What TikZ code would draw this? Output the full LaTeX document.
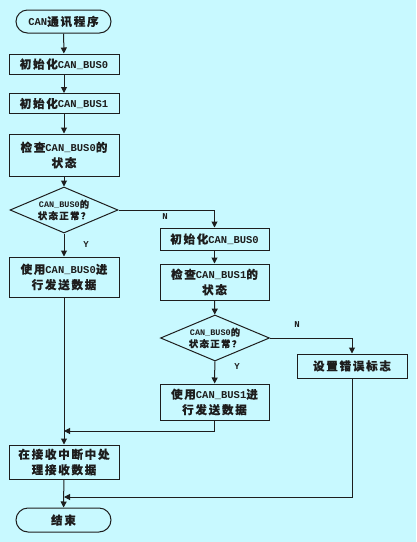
\documentclass[tikz,border=0pt]{standalone}
\usepackage{fontspec}
\setmainfont{Liberation Mono}
\newfontfamily\zhfont{Noto Sans CJK SC}[Scale=1.1,LetterSpace=15,FakeBold=0.3]
\newcommand{\zh}[1]{{\zhfont #1}}
\usetikzlibrary{arrows.meta,shapes.geometric,shapes.misc}
\definecolor{bgcyan}{RGB}{200,249,255}
\definecolor{ink}{RGB}{30,30,30}

\begin{document}
\begin{tikzpicture}[x=1pt,y=-1pt,>={Triangle[length=6pt,width=6pt]},line width=1pt,draw=ink,
 font=\fontsize{10.5}{15.5}\selectfont\bfseries,
 box/.style={draw=ink,rectangle,minimum width=110pt,minimum height=20pt,align=center,inner sep=1pt,text=ink},
 term/.style={draw=ink,rounded rectangle,minimum width=97pt,minimum height=23pt,inner sep=1pt,text=ink},
 dec/.style={draw=ink,diamond,aspect=2.3,minimum width=108pt,minimum height=46pt,inner sep=0pt,align=center,text=ink,font=\fontsize{8.5}{11.5}\selectfont\bfseries},
 lab/.style={text=ink,font=\fontsize{9}{10}\selectfont\bfseries}]
\fill[bgcyan] (0,0) rectangle (416,542);
\useasboundingbox (0,0) rectangle (416,542);
% left column
\node[term] (start) at (63.5,21.5) {CAN\zh{通讯程序}};
\node[box] (b1) at (64,64) {\zh{初始化}CAN\_BUS0};
\node[box] (b2) at (64,103.5) {\zh{初始化}CAN\_BUS1};
\node[box,minimum height=42pt] (b3) at (64,155) {\zh{检查}CAN\_BUS0\zh{的}\\\zh{状态}};
\node[dec] (d1) at (64,210) {CAN\_BUS0\zh{的}\\\zh{状态正常？}};
\node[box,minimum height=40pt] (b4) at (64,277) {\zh{使用}CAN\_BUS0\zh{进}\\\zh{行发送数据}};
\node[box,minimum height=34pt] (b5) at (64,462) {\zh{在接收中断中处}\\\zh{理接收数据}};
\node[term,minimum height=24pt] (stop) at (63.5,520) {\zh{结束}};
% right column
\node[box,minimum width=109pt,minimum height=22pt] (r1) at (214.5,239) {\zh{初始化}CAN\_BUS0};
\node[box,minimum width=109pt,minimum height=36pt] (r2) at (214.5,282) {\zh{检查}CAN\_BUS1\zh{的}\\\zh{状态}};
\node[dec,minimum width=109pt] (d2) at (215,338) {CAN\_BUS0\zh{的}\\\zh{状态正常？}};
\node[box,minimum width=109pt,minimum height=36pt] (r3) at (214.5,402) {\zh{使用}CAN\_BUS1\zh{进}\\\zh{行发送数据}};
\node[box,minimum width=110pt,minimum height=24pt] (err) at (352,366) {\zh{设置错误标志}};
% merge points
\coordinate (m1) at (64,431);
\coordinate (m2) at (64,497);
% connectors
\draw[->] (start) -- (b1);
\draw[->] (b1) -- (b2);
\draw[->] (b2) -- (b3);
\draw[->] (b3) -- (d1);
\draw[->] (d1.east) -| (r1.north);
\node[lab] at (165,217) {N};
\draw[->] (d1) -- (b4);
\node[lab] at (86,245) {Y};
\draw[->] (r1) -- (r2);
\draw[->] (r2) -- (d2);
\draw[->] (d2.east) -| (err.north);
\node[lab] at (297,325) {N};
\draw[->] (d2) -- (r3);
\node[lab] at (237,367) {Y};
\draw[->] (b4) -- (b5);
\draw[->] (r3.south) |- (m1);
\draw[->] (err.south) |- (m2);
\draw[->] (b5) -- (stop);
\end{tikzpicture}
\end{document}
